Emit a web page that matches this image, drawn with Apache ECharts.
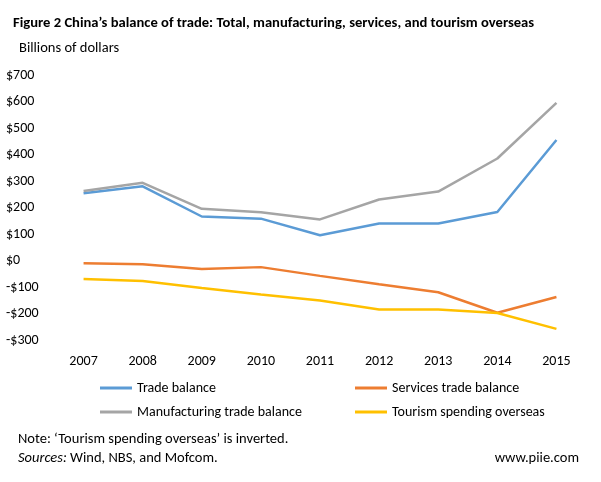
<!DOCTYPE html><html><head><meta charset="utf-8"><script src="https://cdn.jsdelivr.net/npm/echarts@6/dist/echarts.min.js"></script></head><body style="margin:0;background:#fff"><div id="c" style="width:601px;height:482px"></div><script>
const years=['2007','2008','2009','2010','2011','2012','2013','2014','2015'];
const trade=[254,280,166,158,95,140,140,183,455];
const manufacturing=[262,293,195,182,155,230,260,385,595];
const services=[-10,-14,-32,-25,-58,-90,-120,-197,-138];
const tourism=[-70,-77,-104,-128,-151,-185,-185,-198,-258];
const f='Calibri, Carlito, "Liberation Sans", sans-serif';
const ch=echarts.init(document.getElementById('c'));
const s=(n,d,c)=>({name:n,type:'line',data:d,symbol:'none',lineStyle:{color:c,width:2.5},itemStyle:{color:c}});
const lg=(left,data)=>({left:left,top:376,orient:'vertical',itemWidth:32,itemHeight:3,itemGap:10,icon:'rect',textStyle:{fontSize:14,color:'#000'},data:data});
ch.setOption({animation:false,textStyle:{fontFamily:f},
title:[{text:'Figure 2 China\u2019s balance of trade: Total, manufacturing, services, and tourism overseas',left:8,top:11,textStyle:{fontSize:14.6,fontWeight:'bold',color:'#000',fontFamily:f}},
{text:'Billions of dollars',left:14,top:36,textStyle:{fontSize:14.5,fontWeight:'normal',color:'#000',fontFamily:f}}],
grid:{left:54,right:15,top:75,bottom:142},
xAxis:{type:'category',data:years,axisLine:{show:false},axisTick:{show:false},axisLabel:{color:'#000',fontSize:14,margin:14}},
yAxis:{type:'value',min:-300,max:700,interval:100,splitLine:{show:false},axisLabel:{color:'#000',fontSize:14,align:'left',margin:48,formatter:v=>(v<0?'-$'+(-v):'$'+v)}},
legend:[lg(95,['Trade balance','Manufacturing trade balance']),lg(350,['Services trade balance','Tourism spending overseas'])],
graphic:[{type:'text',left:18,top:432,style:{text:'Note: \u2018Tourism spending overseas\u2019 is inverted.',font:'14.5px '+f,fill:'#000'}},
{type:'text',left:18,top:451,style:{rich:{i:{fontStyle:'italic',font:'italic 14.5px '+f}},text:'{i|Sources:} Wind, NBS, and Mofcom.',font:'14.5px '+f,fill:'#000'}},
{type:'text',right:22,top:451,style:{text:'www.piie.com',font:'14.5px '+f,fill:'#000'}}],
series:[s('Trade balance',trade,'#5B9BD5'),s('Services trade balance',services,'#ED7D31'),s('Manufacturing trade balance',manufacturing,'#A5A5A5'),s('Tourism spending overseas',tourism,'#FFC000')]});
</script></body></html>
